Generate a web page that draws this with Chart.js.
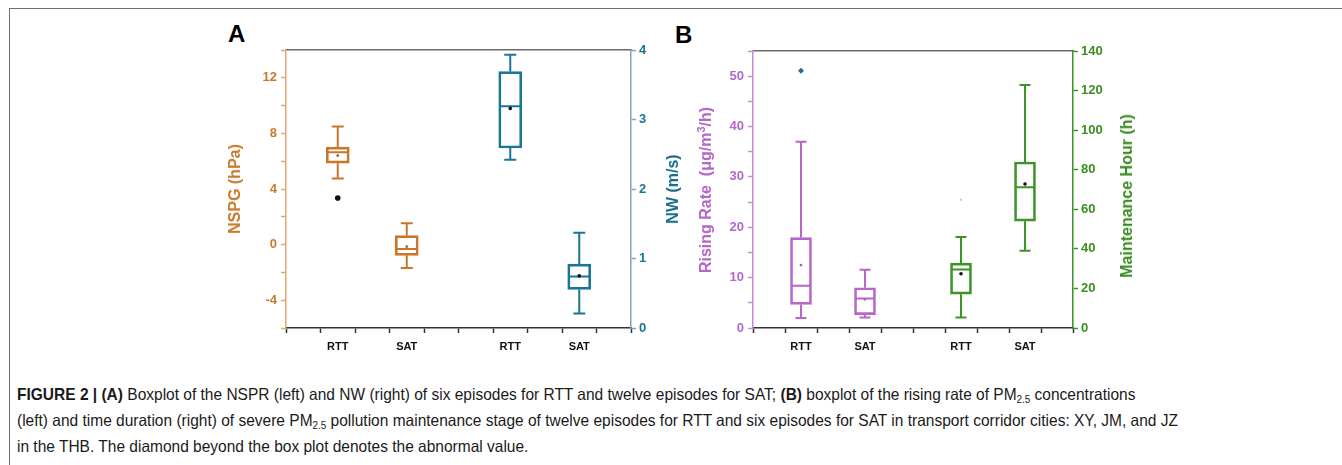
<!DOCTYPE html>
<html>
<head>
<meta charset="utf-8">
<script src="https://cdn.jsdelivr.net/npm/chart.js@4.4.1/dist/chart.umd.min.js"></script>
<style>
  body { margin: 0; width: 1342px; height: 465px; overflow: hidden; position: relative; background: #fff;
         font-family: "Liberation Sans", Arial, sans-serif; }
  .frame { position: absolute; left: 9px; top: 8px; right: -2px; bottom: -2px;
           border-top: 1.5px solid #707070; border-left: 1.5px solid #707070; }
  canvas { position: absolute; top: 0; }
  #chartA { left: 200px; }
  #chartB { left: 700px; }
  .panel { position: absolute; font-weight: bold; font-size: 24px; line-height: 24px; color: #000; }
  .ytitle { position: absolute; font-weight: bold; font-size: 16px; white-space: nowrap;
            transform: translate(-50%, -50%) rotate(-90deg); }
  .ytitle sup { font-size: 11px; }
  .cap { position: absolute; left: 17px; top: 381px; font-size: 16.5px; color: #1a1a1a; }
  .cap .line { display: block; width: max-content; white-space: nowrap; height: 26px; line-height: 26px;
               transform-origin: 0 50%; }
  .cap sub { font-size: 10.5px; vertical-align: -3px; line-height: 0; }
</style>
</head>
<body>
<div class="frame"></div>
<div class="panel" style="left:228px;top:22px">A</div>
<div class="panel" style="left:675px;top:23px">B</div>
<canvas id="chartA" width="470" height="365"></canvas>
<canvas id="chartB" width="430" height="365"></canvas>
<div class="ytitle" style="left:235px;top:189px;color:#C8792B">NSPG (hPa)</div>
<div class="ytitle" style="left:673px;top:189px;color:#1A6F8F">NW (m/s)</div>
<div class="ytitle" style="left:705px;top:190px;color:#B468C8">Rising Rate&nbsp; (μg/m<sup>3</sup>/h)</div>
<div class="ytitle" style="left:1127px;top:196px;color:#3A8A22">Maintenance Hour (h)</div>
<div class="cap">
  <span class="line"><b>FIGURE 2 | (A)</b> Boxplot of the NSPR (left) and NW (right) of six episodes for RTT and twelve episodes for SAT; <b>(B)</b> boxplot of the rising rate of PM<sub>2.5</sub> concentrations</span>
  <span class="line" id="capRef">(left) and time duration (right) of severe PM<sub>2.5</sub> pollution maintenance stage of twelve episodes for RTT and six episodes for SAT in transport corridor cities: XY, JM, and JZ</span>
  <span class="line">in the THB. The diamond beyond the box plot denotes the abnormal value.</span>
</div>
<script>
// x slots: left-axis pair at 1 and 3, right-axis pair at 6 and 8
const groups = ['RTT', 'SAT'];
const slotsLeft = [1, 3];
const slotsRight = [6, 8];

// [min, q1, median, q3, max] per group
const nspgBox = [[4.76, 5.86, 6.65, 7.01, 8.5], [-1.68, -0.77, -0.31, 0.65, 1.53]];
const nspgMean = [6.41, -0.14];
const nspgOutlier = [3.35, null];

const nwBox = [[2.42, 2.59, 3.19, 3.69, 3.93], [0.21, 0.555, 0.74, 0.92, 1.37]];
const nwMean = [3.16, 0.75];

const riseBox = [[1.98, 4.68, 8.38, 17.96, 36.98], [2.1, 2.64, 5.87, 7.99, 11.55]];
const riseMean = [12.5, 5.7];
const riseOutlier = [51.1, null];

const hourBox = [[5.3, 17.1, 29.6, 32.8, 46], [39.1, 54, 71.1, 83.9, 122.8]];
const hourMean = [27.4, 72.8];
const hourOutlier = [64.8, null];

const FONT = 'Liberation Sans, Arial, sans-serif';

const whiskers = {
  id: 'whiskers',
  beforeDatasetsDraw(chart) {
    const ctx = chart.ctx;
    const xs = chart.scales.x;
    chart.data.datasets.forEach(ds => {
      if (!ds.stats) return;
      const ys = chart.scales[ds.yAxisID];
      ctx.save();
      ctx.strokeStyle = ds.borderColor;
      ctx.lineWidth = ds.borderWidth;
      ds.stats.forEach((s, i) => {
        const x = xs.getPixelForValue(ds.data[i].x);
        const [lo, q1, med, q3, hi] = s.map(v => ys.getPixelForValue(v));
        const half = ds.barThickness / 2 - 1;
        const cap = ds.capWidth / 2;
        ctx.beginPath();
        ctx.moveTo(x, q3); ctx.lineTo(x, hi);
        ctx.moveTo(x, q1); ctx.lineTo(x, lo);
        ctx.moveTo(x - cap, hi); ctx.lineTo(x + cap, hi);
        ctx.moveTo(x - cap, lo); ctx.lineTo(x + cap, lo);
        ctx.moveTo(x - half, med); ctx.lineTo(x + half, med);
        ctx.stroke();
      });
      ctx.restore();
    });
  }
};

function boxSet(stats, slots, color, axis, width, cap) {
  return {
    type: 'bar', stats, yAxisID: axis, grouped: false,
    data: slots.map((x, i) => ({ x, y: [stats[i][1], stats[i][3]] })),
    backgroundColor: 'rgba(0,0,0,0)', borderColor: color, borderWidth: 2,
    borderSkipped: false, barThickness: width, capWidth: cap
  };
}

function pointSet(values, slots, color, axis, radius, style) {
  return {
    type: 'scatter', yAxisID: axis,
    data: slots.map((x, i) => ({ x, y: values[i] })),
    backgroundColor: color, borderColor: color, borderWidth: 0,
    pointRadius: radius, pointStyle: style || 'circle'
  };
}

function xAxes(slots) {
  const labels = {};
  slots.forEach((s, i) => { labels[s] = groups[i % groups.length]; });
  return {
    x: {
      type: 'linear', min: 0, max: 9,
      ticks: { stepSize: 1, autoSkip: false, maxRotation: 0, padding: 7, color: '#111',
               font: { family: FONT, size: 11, weight: 'bold' },
               callback: v => labels[v] || '' },
      grid: { drawOnChartArea: false, tickLength: 5, tickColor: '#333', tickWidth: 1.5 },
      border: { color: '#333', width: 1.5 },
      afterFit: s => { s.height = 37; }
    },
    xTop: {
      type: 'linear', position: 'top', min: 0, max: 9,
      ticks: { display: false },
      grid: { drawOnChartArea: false, drawTicks: false },
      border: { color: '#6a6a6a', width: 1.5 },
      afterFit: s => { s.height = 0; }
    }
  };
}

function yAxis(pos, min, max, step, labelEvery, color, lineColor, width, pad) {
  return {
    type: 'linear', position: pos, min, max,
    ticks: { stepSize: step, autoSkip: false, padding: pad, color,
             font: { family: FONT, size: 13, weight: 'bold' },
             callback: v => (Math.abs(v % labelEvery) < 1e-9 ? v : '') },
    grid: { drawOnChartArea: false, tickLength: 5, tickColor: lineColor, tickWidth: 1.5 },
    border: { color: lineColor, width: 1.5 },
    afterFit: s => { s.width = width; }
  };
}

const allSlots = slotsLeft.concat(slotsRight);

new Chart(document.getElementById('chartA'), {
  type: 'bar',
  data: {
    datasets: [
      boxSet(nspgBox, slotsLeft, '#C8772A', 'y', 23, 12),
      boxSet(nwBox, slotsRight, '#1B7596', 'y2', 23, 12),
      pointSet(nspgMean, slotsLeft, '#B8712E', 'y', 1.5),
      pointSet(nspgOutlier, slotsLeft, '#111', 'y', 2.8),
      pointSet(nwMean, slotsRight, '#111', 'y2', 1.8)
    ]
  },
  options: {
    responsive: false, animation: false, devicePixelRatio: 1,
    layout: { padding: { top: 50, left: 0, right: 0, bottom: 0 } },
    plugins: { legend: { display: false }, tooltip: { enabled: false } },
    scales: Object.assign(xAxes(allSlots), {
      y: yAxis('left', -6, 14, 2, 4, '#C8792B', '#E2A86E', 86, 4),
      y2: yAxis('right', 0, 4, 1, 1, '#1A7595', '#7FA5C2', 39, 3)
    })
  },
  plugins: [whiskers]
});

new Chart(document.getElementById('chartB'), {
  type: 'bar',
  data: {
    datasets: [
      boxSet(riseBox, slotsLeft, '#B866CB', 'y', 21, 11),
      boxSet(hourBox, slotsRight, '#3C9427', 'y2', 21, 11),
      pointSet(riseMean, slotsLeft, '#B060C4', 'y', 1.4),
      pointSet(riseOutlier, slotsLeft, '#1B6F8F', 'y', 3, 'rectRot'),
      pointSet(hourMean, slotsRight, '#111', 'y2', 1.8),
      pointSet(hourOutlier, slotsRight, '#C8C8C8', 'y2', 1.2)
    ]
  },
  options: {
    responsive: false, animation: false, devicePixelRatio: 1,
    layout: { padding: { top: 51, left: 0, right: 0, bottom: 0 } },
    plugins: { legend: { display: false }, tooltip: { enabled: false } },
    scales: Object.assign(xAxes(allSlots), {
      y: yAxis('left', 0, 55, 5, 10, '#B468C8', '#C98BD8', 53, 4),
      y2: yAxis('right', 0, 140, 20, 20, '#3A8F20', '#3C9427', 57, 3)
    })
  },
  plugins: [whiskers]
});

// the caption is set in a narrow face: squeeze all lines by the same factor
const capScale = 1161 / document.getElementById('capRef').getBoundingClientRect().width;
document.querySelectorAll('.cap .line').forEach(el => {
  el.style.transform = 'scaleX(' + capScale + ')';
});
</script>
</body>
</html>
